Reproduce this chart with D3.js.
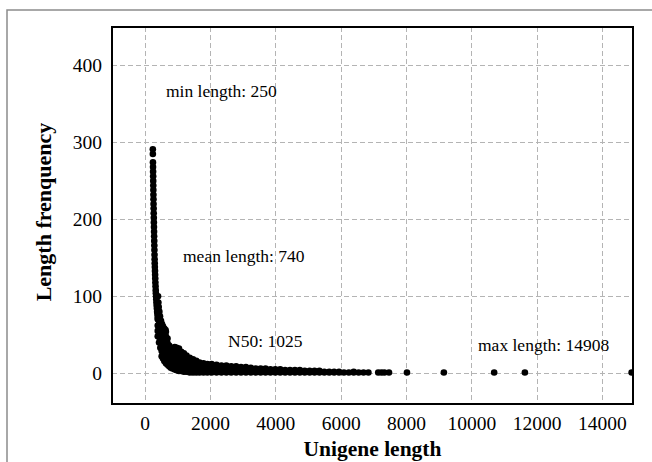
<!DOCTYPE html>
<html>
<head>
<meta charset="utf-8">
<script src="https://cdn.jsdelivr.net/npm/d3@7/dist/d3.min.js"></script>
<style>
  html, body { margin: 0; padding: 0; background: #fff; }
  svg { display: block; }
  text { font-family: "Liberation Serif", "Times New Roman", serif; fill: #000; }
</style>
</head>
<body>
<div id="chart"></div>
<script>
// tick labels
const xTicks = [0, 2000, 4000, 6000, 8000, 10000, 12000, 14000];
const yTicks = [0, 100, 200, 300, 400];

// steep part near the minimum length: [length, frequency]
const steepPoints = [
    [250, 291], [251, 285], [254, 274], [256, 268], [258, 262], [260, 256],
    [262, 250], [264, 244], [266, 238], [268, 232], [270, 226], [272, 220],
    [275, 214], [277, 208], [280, 202], [282, 196], [285, 190], [288, 184],
    [290, 178], [293, 172], [296, 166], [299, 160], [302, 154], [305, 148],
    [308, 143], [312, 138], [316, 133], [320, 128], [324, 123], [328, 118],
    [333, 113], [338, 108], [343, 104], [349, 100], [355, 96], [361, 92],
    [368, 88], [375, 84], [382, 80], [390, 77], [398, 73], [410, 100],
    [420, 92], [430, 86], [450, 80], [470, 74], [500, 68], [530, 64],
    [560, 61], [600, 58], [640, 56]
];

// thick band: [length, frequencies seen at that length]
const bandColumns = [
    [400, [48, 55, 62, 70]],
    [440, [40, 47, 54, 61, 68]],
    [480, [33, 40, 47, 54, 62]],
    [520, [22, 29, 36, 43, 50, 58]],
    [560, [19, 26, 33, 40, 47, 55]],
    [600, [16, 23, 30, 37, 44, 51]],
    [650, [13, 20, 27, 34, 41, 48, 54]],
    [700, [11, 18, 25, 32, 39, 45]],
    [750, [9, 15, 22, 29, 36]],
    [800, [7, 13, 20, 27, 33]],
    [860, [6, 12, 18, 25, 32]],
    [920, [5, 11, 17, 24, 31, 34]],
    [980, [4, 10, 16, 23, 30, 33]],
    [1050, [3, 9, 15, 22, 29, 32]],
    [1120, [3, 8, 14, 21, 28]],
    [1200, [2, 7, 13, 20, 26]],
    [1280, [2, 7, 12, 18, 23]],
    [1380, [1, 6, 11, 16, 20]],
    [1480, [1, 5, 10, 15, 18]],
    [1580, [1, 5, 9, 14, 16]],
    [1680, [1, 4, 8, 13, 14]],
    [1800, [1, 4, 8, 13]],
    [1920, [1, 4, 8, 12]],
    [2050, [1, 4, 7, 12]],
    [2200, [1, 4, 7, 11]],
    [2350, [1, 3, 7, 10]],
    [2500, [1, 3, 6, 10]],
    [2650, [1, 3, 6, 9]],
    [2800, [1, 3, 6, 9]],
    [2950, [1, 3, 5, 8]],
    [3100, [1, 3, 5, 8]],
    [3250, [1, 3, 7]],
    [3400, [1, 3, 6]],
    [3550, [1, 3, 6]],
    [3700, [1, 3, 6]],
    [3850, [1, 3, 5]],
    [4000, [1, 3, 5]],
    [4150, [1, 3, 5]],
    [4300, [1, 2, 4]],
    [4450, [1, 2, 4]],
    [4600, [1, 2, 4]],
    [4750, [1, 2, 4]],
    [4900, [1, 3]],
    [5050, [1, 3]],
    [5200, [1, 3]],
    [5350, [1, 3]],
    [5500, [1, 2]],
    [5650, [1, 2]],
    [5800, [1, 2]],
    [5950, [1, 2]],
    [6100, [1]],
    [6250, [1]],
    [6400, [1, 2]],
    [6550, [1]],
    [6700, [1]],
    [6850, [1]]
];

// sparse long unigenes
const tailPoints = [
    [7150, 1], [7250, 1], [7340, 1], [7480, 1], [8030, 1],
    [9160, 1], [10700, 1], [11640, 1], [14908, 1]
];

const notes = ["min length: 250", "mean length: 740", "N50: 1025", "max length: 14908"];

function drawChart() {
    const width = 652, height = 462;
    const left = 112, top = 27, right = 633, bottom = 404;

    const points = steepPoints
        .concat(...bandColumns.map(c => c[1].map(f => [c[0], f])))
        .concat(tailPoints);

    const svg = d3.select("#chart")
        .append("svg")
        .attr("width", width)
        .attr("height", height);

    svg.append("rect")
        .attr("width", width)
        .attr("height", height)
        .attr("fill", "#fff");

    // outer frame (only top and left edges are visible)
    svg.append("path")
        .attr("d", `M7,${height} V10 H${width}`)
        .attr("fill", "none")
        .attr("stroke", "#8c8c8c")
        .attr("stroke-width", 1.5);

    const x = d3.scaleLinear().domain([-1000, 14950]).range([left, right]);
    const y = d3.scaleLinear().domain([-40, 450]).range([bottom, top]);

    svg.append("clipPath")
        .attr("id", "plot-clip")
        .append("rect")
        .attr("x", left)
        .attr("y", top)
        .attr("width", right - left)
        .attr("height", bottom - top);

    // grid
    const grid = svg.append("g")
        .attr("stroke", "#b4b4b4")
        .attr("stroke-width", 1)
        .attr("stroke-dasharray", "5,3");

    grid.selectAll("line.vx")
        .data(xTicks)
        .enter().append("line")
        .attr("class", "vx")
        .attr("x1", d => Math.round(x(d)) + 0.5)
        .attr("x2", d => Math.round(x(d)) + 0.5)
        .attr("y1", top)
        .attr("y2", bottom);

    grid.selectAll("line.hy")
        .data(yTicks)
        .enter().append("line")
        .attr("class", "hy")
        .attr("x1", left)
        .attr("x2", right)
        .attr("y1", d => Math.round(y(d)) + 0.5)
        .attr("y2", d => Math.round(y(d)) + 0.5);

    // points
    svg.append("g")
        .attr("clip-path", "url(#plot-clip)")
        .selectAll("circle")
        .data(points)
        .enter().append("circle")
        .attr("cx", d => x(d[0]))
        .attr("cy", d => y(d[1]))
        .attr("r", 3.3)
        .attr("fill", "#000");

    // axes (labels only)
    const xAxis = svg.append("g")
        .attr("transform", `translate(0,${bottom})`)
        .call(d3.axisBottom(x).tickValues(xTicks).tickFormat(d3.format("d"))
            .tickSize(0).tickPadding(12));
    xAxis.select(".domain").remove();
    xAxis.selectAll("text")
        .style("font-family", '"Liberation Serif", "Times New Roman", serif')
        .style("font-size", "19.5px")
        .attr("fill", "#000");

    const yAxis = svg.append("g")
        .attr("transform", `translate(${left},0)`)
        .call(d3.axisLeft(y).tickValues(yTicks).tickFormat(d3.format("d"))
            .tickSize(0).tickPadding(10));
    yAxis.select(".domain").remove();
    yAxis.selectAll("text")
        .style("font-family", '"Liberation Serif", "Times New Roman", serif')
        .style("font-size", "19.5px")
        .attr("fill", "#000");

    // plot frame
    svg.append("rect")
        .attr("x", left)
        .attr("y", top)
        .attr("width", right - left)
        .attr("height", bottom - top)
        .attr("fill", "none")
        .attr("stroke", "#000")
        .attr("stroke-width", 2);

    // annotations
    const notePos = [[166, 97], [183, 262], [228, 347], [478, 351]];
    svg.selectAll("text.note")
        .data(notes)
        .enter().append("text")
        .attr("class", "note")
        .attr("x", (d, i) => notePos[i][0])
        .attr("y", (d, i) => notePos[i][1])
        .style("font-size", "17.5px")
        .text(d => d);

    // axis titles
    svg.append("text")
        .attr("x", (left + right) / 2)
        .attr("y", 456)
        .attr("text-anchor", "middle")
        .style("font-size", "21.5px")
        .style("font-weight", "bold")
        .text("Unigene length");

    svg.append("text")
        .attr("transform", "translate(51,212) rotate(-90)")
        .attr("text-anchor", "middle")
        .style("font-size", "22px")
        .style("font-weight", "bold")
        .text("Length frenquency");
}

drawChart();
</script>
</body>
</html>
